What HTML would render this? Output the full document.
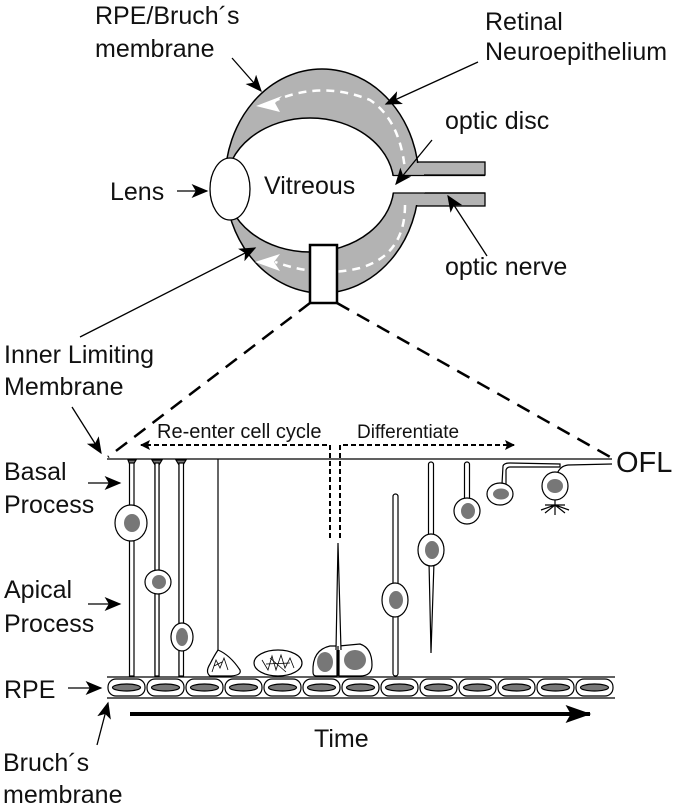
<!DOCTYPE html>
<html><head><meta charset="utf-8"><style>
html,body{margin:0;padding:0;background:#fff}
svg{display:block}
text{font-family:"Liberation Sans",sans-serif;fill:#111}
</style></head><body>
<svg width="680" height="808" viewBox="0 0 680 808" xmlns="http://www.w3.org/2000/svg">
<defs>
<marker id="a2" viewBox="0 0 12 10" refX="11" refY="5" markerWidth="18" markerHeight="14" markerUnits="userSpaceOnUse" orient="auto"><path d="M0,0 L12,5 L0,10 L3,5 z" fill="#000"/></marker>
<marker id="s" viewBox="0 0 10 10" refX="9" refY="5" markerWidth="10" markerHeight="10" markerUnits="userSpaceOnUse" orient="auto"><path d="M0,0 L10,5 L0,10 L2,5 z" fill="#000"/></marker>
<marker id="big" viewBox="0 0 20 14" refX="19" refY="7" markerWidth="26" markerHeight="18" markerUnits="userSpaceOnUse" orient="auto"><path d="M0,0 L20,7 L0,14 L4,7 z" fill="#000"/></marker>
</defs>

<!-- eye -->
<rect x="400" y="162" width="85" height="13" fill="#b3b3b3" stroke="#000" stroke-width="1.3"/>
<rect x="400" y="193" width="85" height="13" fill="#b3b3b3" stroke="#000" stroke-width="1.3"/>
<ellipse cx="322" cy="181" rx="97" ry="112" fill="#b3b3b3" stroke="#000" stroke-width="1.5"/>
<rect x="412" y="163" width="12" height="42" fill="#b3b3b3"/>
<ellipse cx="310" cy="185" rx="84" ry="67" fill="#fff" stroke="#000" stroke-width="1.5"/>
<rect x="385" y="176" width="40" height="16.5" fill="#fff"/>
<line x1="393" y1="175.5" x2="485" y2="175.5" stroke="#000" stroke-width="1.3"/>
<line x1="393" y1="193" x2="485" y2="193" stroke="#000" stroke-width="1.3"/>
<path d="M272,102 Q320,80 370,100 Q400,120 405,170" fill="none" stroke="#fff" stroke-width="2.5" stroke-dasharray="8,6"/>
<path d="M405,205 Q405,255 360,268 Q320,278 275,262" fill="none" stroke="#fff" stroke-width="2.5" stroke-dasharray="8,6"/>
<path d="M256,106 L282,96 L275,103 L280,112 z" fill="#fff"/>
<path d="M255,262 L280,254 L274,262 L280,271 z" fill="#fff"/>
<ellipse cx="230" cy="189" rx="20" ry="31" fill="#fff" stroke="#000" stroke-width="1.3"/>
<rect x="310" y="245" width="27" height="58" fill="#fff" stroke="#000" stroke-width="2.5"/>
<text x="264" y="194" font-size="25">Vitreous</text>

<!-- eye labels -->
<text x="95" y="24" font-size="25">RPE/Bruch´s</text>
<text x="95" y="57" font-size="25">membrane</text>
<line x1="232" y1="58" x2="261" y2="91" stroke="#000" stroke-width="1.3" marker-end="url(#a2)"/>
<text x="485" y="30" font-size="25">Retinal</text>
<text x="485" y="60" font-size="25">Neuroepithelium</text>
<line x1="478" y1="62" x2="386" y2="104" stroke="#000" stroke-width="1.3" marker-end="url(#a2)"/>
<text x="445" y="129" font-size="25">optic disc</text>
<line x1="432" y1="140" x2="396" y2="184" stroke="#000" stroke-width="1.3" marker-end="url(#a2)"/>
<text x="110" y="200" font-size="25">Lens</text>
<line x1="177" y1="191" x2="207" y2="191" stroke="#000" stroke-width="1.3" marker-end="url(#a2)"/>
<text x="445" y="275" font-size="25">optic nerve</text>
<line x1="487" y1="256" x2="448" y2="196" stroke="#000" stroke-width="1.3" marker-end="url(#a2)"/>
<line x1="80" y1="337" x2="255" y2="248" stroke="#000" stroke-width="1.3" marker-end="url(#a2)"/>

<!-- zoom dashed -->
<line x1="310" y1="303" x2="108" y2="457" stroke="#000" stroke-width="2.5" stroke-dasharray="14,9"/>
<line x1="337" y1="303" x2="612" y2="458" stroke="#000" stroke-width="2.5" stroke-dasharray="14,9"/>

<text x="4" y="363" font-size="25">Inner Limiting</text>
<text x="4" y="395" font-size="25">Membrane</text>
<line x1="72" y1="407" x2="101" y2="453" stroke="#000" stroke-width="1.3" marker-end="url(#a2)"/>
<text x="4" y="480" font-size="25">Basal</text>
<text x="4" y="513" font-size="25">Process</text>
<line x1="88" y1="483" x2="120" y2="483" stroke="#000" stroke-width="1.3" marker-end="url(#a2)"/>
<text x="4" y="598" font-size="25">Apical</text>
<text x="4" y="632" font-size="25">Process</text>
<line x1="88" y1="604" x2="120" y2="604" stroke="#000" stroke-width="1.3" marker-end="url(#a2)"/>
<text x="4" y="698" font-size="25">RPE</text>
<line x1="68" y1="688" x2="101" y2="688" stroke="#000" stroke-width="1.3" marker-end="url(#a2)"/>
<text x="3" y="771" font-size="25">Bruch´s</text>
<text x="3" y="803" font-size="25">membrane</text>
<line x1="97" y1="745" x2="108" y2="703" stroke="#000" stroke-width="1.3" marker-end="url(#a2)"/>
<text x="616" y="472" font-size="29">OFL</text>

<!-- ILM -->
<line x1="107" y1="459" x2="612" y2="459" stroke="#000" stroke-width="1.3"/>
<text x="157" y="438" font-size="20">Re-enter cell cycle</text>
<text x="357" y="438" font-size="19">Differentiate</text>
<path d="M330,538 L330,445 L141,445" fill="none" stroke="#000" stroke-width="2" stroke-dasharray="5,3" marker-end="url(#s)"/>
<path d="M340,538 L340,445 L514,445" fill="none" stroke="#000" stroke-width="2" stroke-dasharray="5,3" marker-end="url(#s)"/>

<!-- RPE layer -->
<line x1="107" y1="677" x2="615" y2="677" stroke="#000" stroke-width="1.3"/>
<line x1="107" y1="698" x2="615" y2="698" stroke="#000" stroke-width="1.3"/>
<g stroke="#000" stroke-width="1.2">
<g id="c"><rect x="108" y="679" width="37" height="17" rx="8" fill="#fff"/><ellipse cx="126.5" cy="687.5" rx="14" ry="3.5" fill="#777"/></g>
<use href="#c" x="39"/><use href="#c" x="78"/><use href="#c" x="117"/><use href="#c" x="156"/><use href="#c" x="195"/><use href="#c" x="234"/><use href="#c" x="273"/><use href="#c" x="312"/><use href="#c" x="351"/><use href="#c" x="390"/><use href="#c" x="429"/><use href="#c" x="468"/>
</g>
<line x1="130" y1="714" x2="590" y2="714" stroke="#000" stroke-width="4" marker-end="url(#big)"/>
<text x="314" y="747" font-size="25">Time</text>

<!-- cells -->
<g stroke="#000" stroke-width="1.2" fill="#fff">
<path d="M128,460 L136,460 L133,465 L133,676 L130,676 L130,465 z" fill="#777"/>
<rect x="129.5" y="463" width="4.5" height="213" />
<ellipse cx="131" cy="523" rx="16" ry="18"/>
<ellipse cx="132" cy="523" rx="8" ry="9" fill="#777" stroke="none"/>
<path d="M152,460 L162,460 L159,465 L159,676 L155,676 L155,465 z" fill="#777"/>
<rect x="155" y="463" width="4" height="213"/>
<ellipse cx="158" cy="582" rx="13" ry="12"/>
<ellipse cx="159" cy="582" rx="7" ry="7" fill="#777" stroke="none"/>
<path d="M176,460 L186,460 L183,465 L183,676 L179,676 L179,465 z" fill="#777"/>
<rect x="179" y="463" width="4.5" height="213"/>
<ellipse cx="182" cy="637" rx="11" ry="14"/>
<ellipse cx="182" cy="637" rx="6" ry="9" fill="#777" stroke="none"/>
<line x1="218" y1="459" x2="218" y2="655" fill="none"/>
<path d="M218,650 Q230,655 240,670 Q242,676 228,676 L210,676 Q205,672 210,664 Q214,656 218,650 z"/>
<path d="M212,672 L216,660 L220,668 L224,658 L228,670 M214,666 L222,662" fill="none" stroke-width="0.8"/>
<ellipse cx="278" cy="663" rx="24" ry="13"/>
<path d="M262,660 L268,670 L272,656 L276,670 L281,655 L285,668 L290,658 L294,668 M266,664 L290,663 M270,658 L286,672" fill="none" stroke-width="0.8"/>
<path d="M313,672 Q312,650 330,646 L337,646 L337,676 L316,676 Q313,676 313,672 z"/>
<path d="M339,646 L360,644 Q372,648 372,665 Q372,676 360,676 L339,676 z"/>
<path d="M336,650 L338,543 L341,650" />
<ellipse cx="325" cy="662" rx="8" ry="10" fill="#777" stroke="none"/>
<ellipse cx="355" cy="660" rx="11" ry="10" fill="#777" stroke="none"/>
<line x1="338" y1="646" x2="338" y2="676"/>
<rect x="393" y="494" width="5" height="182" rx="2.5"/>
<ellipse cx="395" cy="600" rx="13" ry="17"/>
<ellipse cx="396" cy="600" rx="7" ry="9" fill="#777" stroke="none"/>
<rect x="428.5" y="462" width="5" height="80" rx="2.5"/>
<path d="M429,562 L431,653 L434,562 z"/>
<ellipse cx="431" cy="550" rx="13" ry="16"/>
<ellipse cx="432" cy="550" rx="7" ry="9" fill="#777" stroke="none"/>
<rect x="464.5" y="462" width="5" height="40" rx="2.5"/>
<ellipse cx="467" cy="511" rx="13" ry="13"/>
<ellipse cx="468" cy="511" rx="7" ry="8" fill="#777" stroke="none"/>
<path d="M502,484 L503,466 Q504,463 510,463 L560,464 L560,467 L510,467 Q507,467 506,470 L506,484" />
<ellipse cx="500" cy="494" rx="13" ry="11"/>
<ellipse cx="501" cy="494" rx="8" ry="5.5" fill="#777" stroke="none"/>
<path d="M557,474 Q560,466 568,465 L612,464" fill="none"/>
<ellipse cx="555" cy="486" rx="13" ry="14"/>
<ellipse cx="555" cy="486" rx="8" ry="7" fill="#777" stroke="none"/>
<path d="M555,500 L555,515 M545,505 L565,505 M555,505 L545,513 M555,505 L565,513 M555,505 L541,510 M555,505 L569,510" fill="none"/>
</g>
</svg>
</body></html>
